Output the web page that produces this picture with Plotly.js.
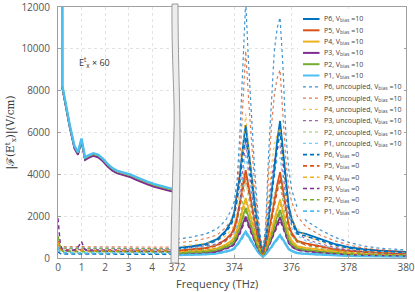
<!DOCTYPE html>
<html><head><meta charset="utf-8">
<script src="https://cdn.plot.ly/plotly-3.0.1.min.js"></script>
<style>html,body{margin:0;padding:0;background:#fff}</style>
</head><body><div id="chart" style="width:415px;height:292px"></div>
<script>
// ---------- DATA ----------
// left panel (low frequency, 0-5 THz)
const xLeftSolid = [0.16, 0.18, 0.3, 0.5, 0.7, 0.85, 1.0, 1.15, 1.3, 1.5, 1.7, 1.9, 2.1, 2.3, 2.5, 2.7, 2.9, 3.1, 3.3, 3.5, 3.8, 4.1, 4.4, 4.7, 5.0];
const leftSolidP6 = [60000, 8170, 7470, 6270, 5270, 4970, 5620, 4720, 4820, 4920, 4850, 4670, 4420, 4220, 4090, 4030, 3970, 3890, 3790, 3690, 3560, 3440, 3340, 3260, 3180];
const leftSolidP5 = [60000, 8185, 7485, 6285, 5285, 4985, 5635, 4735, 4835, 4935, 4865, 4685, 4435, 4235, 4105, 4045, 3985, 3905, 3805, 3705, 3575, 3455, 3355, 3275, 3195];
const leftSolidP4 = [60000, 8200, 7500, 6300, 5300, 5000, 5650, 4750, 4850, 4950, 4880, 4700, 4450, 4250, 4120, 4060, 4000, 3920, 3820, 3720, 3590, 3470, 3370, 3290, 3210];
const leftSolidP3 = [60000, 8130, 7430, 6230, 5230, 4930, 5580, 4680, 4780, 4880, 4810, 4630, 4380, 4180, 4050, 3990, 3930, 3850, 3750, 3650, 3520, 3400, 3300, 3220, 3140];
const leftSolidP2 = [60000, 8230, 7530, 6330, 5330, 5030, 5680, 4780, 4880, 4980, 4910, 4730, 4480, 4280, 4150, 4090, 4030, 3950, 3850, 3750, 3620, 3500, 3400, 3320, 3240];
const leftSolidP1 = [60000, 8260, 7560, 6360, 5360, 5060, 5710, 4810, 4910, 5010, 4940, 4760, 4510, 4310, 4180, 4120, 4060, 3980, 3880, 3780, 3650, 3530, 3430, 3350, 3270];

const xLeft = [0, 0.1, 0.2, 0.4, 0.6, 0.8, 0.9, 1.0, 1.1, 1.2, 1.5, 1.8, 2.1, 2.4, 2.7, 3.0, 3.3, 3.6, 3.9, 4.2, 4.5, 4.8, 5.0];
const leftUncP6 = [500, 470, 480, 470, 475, 465, 470, 480, 470, 465, 470, 465, 460, 465, 460, 455, 460, 455, 450, 455, 450, 450, 445];
const leftUncP5 = [620, 560, 550, 540, 545, 535, 540, 550, 540, 535, 540, 535, 530, 535, 530, 525, 530, 525, 520, 525, 520, 520, 515];
const leftUncP4 = [560, 450, 440, 435, 440, 430, 435, 445, 435, 430, 435, 430, 428, 432, 428, 425, 428, 424, 420, 424, 420, 420, 418];
const leftUncP3 = [700, 420, 410, 400, 405, 398, 402, 420, 402, 398, 400, 398, 395, 398, 395, 392, 395, 392, 390, 392, 390, 388, 386];
const leftUncP2 = [900, 480, 470, 460, 465, 458, 462, 470, 462, 458, 460, 458, 455, 458, 455, 452, 455, 452, 450, 452, 450, 448, 446];
const leftUncP1 = [520, 380, 370, 365, 368, 362, 366, 372, 365, 362, 364, 362, 360, 362, 360, 358, 360, 358, 356, 358, 356, 355, 354];
const leftV0P6 = [300, 210, 195, 190, 192, 188, 190, 200, 190, 188, 190, 188, 186, 188, 186, 184, 186, 184, 182, 184, 182, 181, 180];
const leftV0P5 = [800, 420, 380, 365, 370, 362, 368, 380, 366, 362, 365, 362, 360, 362, 360, 357, 360, 357, 355, 357, 355, 354, 352];
const leftV0P4 = [750, 400, 340, 330, 332, 326, 330, 340, 330, 326, 328, 326, 324, 326, 324, 322, 324, 322, 320, 322, 320, 319, 318];
const leftV0P3 = [1900, 620, 380, 330, 340, 420, 600, 790, 500, 360, 330, 320, 330, 320, 310, 320, 310, 300, 310, 300, 300, 290, 300];
const leftV0P2 = [1050, 460, 320, 300, 302, 298, 300, 310, 300, 296, 298, 296, 294, 296, 294, 292, 294, 292, 290, 292, 290, 289, 288];
const leftV0P1 = [450, 280, 250, 240, 242, 238, 240, 250, 240, 238, 240, 238, 236, 238, 236, 234, 236, 234, 232, 234, 232, 231, 230];

// right panel (372-380 THz)
const xRight = [372, 372.5, 373, 373.4, 373.7, 373.9, 374.0, 374.1, 374.2, 374.3, 374.4, 374.5, 374.6, 374.7, 374.8, 374.9, 375.0, 375.1, 375.2, 375.3, 375.4, 375.5, 375.6, 375.7, 375.8, 375.9, 376.0, 376.2, 376.5, 377, 377.5, 378, 378.5, 379, 379.5, 380];
const rightSolidP6 = [480, 560, 680, 900, 1300, 1750, 2200, 3000, 4000, 5300, 6350, 5200, 3900, 2800, 1700, 800, 150, 900, 1900, 3000, 4300, 5600, 6550, 5200, 3800, 2500, 1900, 1250, 1150, 900, 680, 520, 420, 360, 320, 290];
const rightSolidP5 = [350, 400, 480, 620, 880, 1170, 1450, 2000, 2650, 3500, 4200, 3450, 2600, 1850, 1150, 550, 130, 600, 1200, 1900, 2700, 3500, 4100, 3300, 2400, 1600, 1220, 820, 700, 560, 430, 340, 290, 250, 220, 200];
const rightSolidP4 = [270, 300, 360, 460, 640, 820, 1000, 1380, 1820, 2400, 2870, 2350, 1780, 1260, 790, 380, 110, 420, 830, 1300, 1850, 2400, 2800, 2250, 1640, 1100, 840, 570, 480, 390, 300, 240, 200, 175, 155, 140];
const rightSolidP3 = [190, 215, 255, 320, 450, 570, 700, 950, 1260, 1650, 1980, 1620, 1230, 870, 540, 270, 90, 290, 580, 910, 1290, 1670, 1950, 1570, 1140, 760, 580, 400, 340, 270, 210, 170, 145, 125, 110, 100];
const rightSolidP2 = [230, 260, 310, 390, 540, 690, 840, 1150, 1520, 2000, 2400, 1960, 1480, 1050, 660, 320, 100, 350, 690, 1080, 1530, 1980, 2300, 1850, 1350, 900, 690, 470, 400, 320, 250, 200, 170, 150, 130, 120];
const rightSolidP1 = [140, 155, 180, 220, 300, 380, 460, 620, 820, 1060, 1260, 1040, 790, 560, 350, 180, 70, 180, 340, 530, 740, 950, 1100, 890, 650, 440, 340, 240, 200, 160, 130, 110, 95, 85, 80, 75];
const rightUncP6 = [900, 1000, 1150, 1400, 1800, 2300, 2700, 3700, 6000, 9200, 12300, 9300, 6800, 4500, 2600, 1200, 350, 1600, 5000, 7800, 9900, 11000, 11500, 9200, 6000, 4300, 3300, 2400, 1800, 1350, 1000, 750, 580, 480, 420, 380];
const rightUncP5 = [720, 800, 930, 1100, 1450, 1850, 2200, 3000, 4800, 7400, 9900, 7600, 5500, 3700, 2200, 1000, 320, 1300, 4000, 6300, 7800, 8600, 9000, 7000, 4700, 3400, 2700, 2000, 1500, 1100, 830, 620, 480, 400, 340, 300];
const rightUncP4 = [550, 610, 700, 820, 1050, 1350, 1600, 2150, 3400, 5200, 6900, 5300, 3850, 2600, 1550, 700, 250, 900, 2800, 4400, 5400, 5950, 6200, 4850, 3250, 2350, 1850, 1400, 1050, 780, 580, 440, 340, 280, 240, 210];
const rightUncP3 = [460, 510, 580, 680, 870, 1100, 1300, 1750, 2750, 4200, 5600, 4350, 3150, 2150, 1300, 600, 220, 780, 2400, 3800, 4700, 5200, 5400, 4250, 2850, 2050, 1600, 1200, 900, 680, 510, 390, 300, 250, 215, 190];
const rightUncP2 = [330, 360, 410, 480, 610, 760, 900, 1200, 1850, 2800, 3700, 2900, 2100, 1400, 850, 400, 170, 520, 1580, 2500, 3050, 3380, 3500, 2750, 1850, 1350, 1050, 800, 600, 450, 340, 260, 200, 170, 150, 130];
const rightUncP1 = [420, 460, 530, 620, 790, 1000, 1180, 1580, 2480, 3750, 5000, 3900, 2800, 1900, 1150, 540, 200, 700, 2150, 3400, 4200, 4650, 4800, 3800, 2550, 1850, 1450, 1080, 820, 610, 460, 350, 270, 225, 195, 170];
const rightV0P6 = [430, 510, 620, 830, 1200, 1600, 2000, 2750, 3700, 4900, 5800, 4800, 3600, 2550, 1550, 720, 140, 820, 1750, 2800, 4000, 5200, 6000, 4800, 3500, 2300, 1750, 1150, 1050, 820, 620, 470, 380, 330, 290, 260];
const rightV0P5 = [330, 375, 450, 580, 820, 1090, 1350, 1860, 2470, 3250, 3900, 3200, 2420, 1720, 1070, 510, 120, 560, 1120, 1770, 2510, 3250, 3800, 3070, 2230, 1490, 1130, 760, 650, 520, 400, 320, 270, 230, 205, 185];
const rightV0P4 = [250, 280, 335, 430, 600, 765, 930, 1280, 1690, 2230, 2670, 2190, 1650, 1170, 735, 355, 100, 390, 770, 1210, 1720, 2230, 2600, 2090, 1525, 1020, 780, 530, 445, 360, 280, 225, 185, 165, 145, 130];
const rightV0P3 = [175, 200, 235, 295, 415, 525, 645, 875, 1160, 1520, 1820, 1490, 1130, 800, 500, 250, 85, 265, 535, 840, 1190, 1540, 1800, 1445, 1050, 700, 535, 370, 315, 250, 195, 155, 135, 115, 100, 92];
const rightV0P2 = [215, 240, 290, 360, 500, 640, 780, 1070, 1410, 1860, 2230, 1820, 1375, 975, 615, 300, 95, 325, 640, 1000, 1420, 1840, 2140, 1720, 1255, 835, 640, 435, 370, 300, 230, 185, 160, 140, 120, 110];
const rightV0P1 = [130, 145, 165, 205, 280, 350, 425, 575, 760, 985, 1170, 965, 735, 520, 325, 165, 65, 165, 315, 490, 690, 880, 1020, 825, 605, 410, 315, 225, 185, 150, 120, 100, 88, 80, 74, 70];

const yTicks = [0, 2000, 4000, 6000, 8000, 10000, 12000];
const yTickText = ['0', '2000', '4000', '6000', '8000', '10000', '12000'];
const leftTicks = [0, 1, 2, 3, 4];
const rightTicks = [372, 374, 376, 378, 380];

const probes = ['P6', 'P5', 'P4', 'P3', 'P2', 'P1'];
const colors = ['#0072BD', '#D95319', '#EDB120', '#7E2F8E', '#77AC30', '#4DBEEE'];
const leftSolid = [leftSolidP6, leftSolidP5, leftSolidP4, leftSolidP3, leftSolidP2, leftSolidP1];
const leftUnc = [leftUncP6, leftUncP5, leftUncP4, leftUncP3, leftUncP2, leftUncP1];
const leftV0 = [leftV0P6, leftV0P5, leftV0P4, leftV0P3, leftV0P2, leftV0P1];
const rightSolid = [rightSolidP6, rightSolidP5, rightSolidP4, rightSolidP3, rightSolidP2, rightSolidP1];
const rightUnc = [rightUncP6, rightUncP5, rightUncP4, rightUncP3, rightUncP2, rightUncP1];
const rightV0 = [rightV0P6, rightV0P5, rightV0P4, rightV0P3, rightV0P2, rightV0P1];

// ---------- TRACES ----------
const traces = [];
const solidW = [1.8, 1.8, 1.8, 1.8, 1.8, 2.4];
probes.forEach((p, i) => {
  traces.push({x: xLeftSolid, y: leftSolid[i], xaxis: 'x', yaxis: 'y', mode: 'lines', line: {color: colors[i], width: solidW[i]}});
  traces.push({x: xRight, y: rightSolid[i], xaxis: 'x2', yaxis: 'y2', mode: 'lines', line: {color: colors[i], width: solidW[i]}});
});
probes.forEach((p, i) => {
  traces.push({x: xLeft, y: leftUnc[i], xaxis: 'x', yaxis: 'y', mode: 'lines', opacity: 0.75, line: {color: colors[i], width: 1.2, dash: 'dot'}});
  traces.push({x: xRight, y: rightUnc[i], xaxis: 'x2', yaxis: 'y2', mode: 'lines', opacity: 0.75, line: {color: colors[i], width: 1.2, dash: 'dot'}});
});
probes.forEach((p, i) => {
  traces.push({x: xLeft, y: leftV0[i], xaxis: 'x', yaxis: 'y', mode: 'lines', line: {color: colors[i], width: 1.5, dash: '4px,3px'}});
  traces.push({x: xRight, y: rightV0[i], xaxis: 'x2', yaxis: 'y2', mode: 'lines', line: {color: colors[i], width: 1.5, dash: '4px,3px'}});
});

// ---------- LAYOUT ----------
const W = 415, H = 292, L = 58, R = 9, T = 7, B = 34;
const pw = W - L - R, ph = H - T - B;
const px = v => (v - L) / pw;
const py = v => (H - B - v) / ph;

const axisCommon = {
  showline: true, linecolor: '#a0a0a0', linewidth: 1,
  ticks: 'inside', ticklen: 3, tickcolor: '#a0a0a0',
  showgrid: true, gridcolor: '#e3e3e3', griddash: 'dot', zeroline: false,
  ticklabeloverflow: 'allow',
  tickfont: {family: 'Open Sans, sans-serif', size: 10, color: '#555'}
};

const shapes = [];
const annotations = [];
// axis break band
shapes.push({type: 'path', xref: 'paper', yref: 'paper', layer: 'above',
  path: `M ${px(172)},${py(4)} C ${px(171.5)},${py(60)} ${px(175)},${py(100)} ${px(174)},${py(130)} C ${px(173)},${py(170)} ${px(171)},${py(220)} ${px(171)},${py(263)} L ${px(178.5)},${py(263)} C ${px(179)},${py(220)} ${px(180.5)},${py(170)} ${px(180)},${py(130)} C ${px(179.5)},${py(90)} ${px(178)},${py(50)} ${px(178)},${py(4)} Z`,
  fillcolor: '#ededed', line: {color: '#9a9a9a', width: 1}});
// legend background
shapes.push({type: 'rect', xref: 'paper', yref: 'paper', layer: 'above',
  x0: px(298), x1: px(404), y0: py(218), y1: py(9), fillcolor: '#ffffff', line: {width: 0}});

const legendGroups = [
  {label: p => `${p}, V<sub>bias</sub> =10`, dash: 'solid', width: 2},
  {label: p => `${p}, uncoupled, V<sub>bias</sub> =10`, dash: 'dot', width: 1.2, opacity: 0.75},
  {label: p => `${p}, V<sub>bias</sub> =0`, dash: '4px,3px', width: 1.6}
];
let row = 0;
legendGroups.forEach(g => {
  probes.forEach((p, i) => {
    const yy = 19 + 11.3 * row;
    shapes.push({type: 'line', xref: 'paper', yref: 'paper', layer: 'above',
      x0: px(303), x1: px(319.5), y0: py(yy), y1: py(yy), opacity: g.opacity || 1,
      line: {color: colors[i], width: g.width, dash: g.dash}});
    annotations.push({xref: 'paper', yref: 'paper', x: px(321.5), y: py(yy), xanchor: 'left', yanchor: 'middle',
      text: g.label(p), showarrow: false, font: {family: 'Open Sans, sans-serif', size: 7, color: '#444'}});
    row++;
  });
});

annotations.push({xref: 'x', yref: 'y', x: 1.55, y: 9350, text: 'E<sup>t</sup><sub>x</sub> × 60', showarrow: false,
  font: {family: 'Open Sans, sans-serif', size: 9, color: '#333'}});
annotations.push({xref: 'paper', yref: 'paper', x: px(217), y: py(283), text: 'Frequency (THz)', showarrow: false,
  xanchor: 'center', yanchor: 'middle', font: {family: 'Open Sans, sans-serif', size: 11, color: '#444'}});

const layout = {
  width: W, height: H, margin: {l: L, r: R, t: T, b: B},
  paper_bgcolor: '#fff', plot_bgcolor: '#fff', showlegend: false, hovermode: false,
  xaxis: Object.assign({}, axisCommon, {domain: [0, px(175.5)], range: [0, 5], tickvals: leftTicks, anchor: 'y', mirror: true}),
  xaxis2: Object.assign({}, axisCommon, {domain: [px(177), 1], range: [372, 380], tickvals: rightTicks, anchor: 'y2', mirror: true}),
  yaxis: Object.assign({}, axisCommon, {domain: [0, 1], range: [0, 12000.01], tickmode: 'array', tickvals: yTicks, ticktext: yTickText, anchor: 'x',
    ticklabelstandoff: 5,
    title: {text: '|ℱ(E<sup>t</sup><sub>x</sub>)|(V/cm)', font: {family: 'DejaVu Serif, Liberation Serif, serif', size: 10.5, color: '#333'}, standoff: 4}}),
  yaxis2: Object.assign({}, axisCommon, {domain: [0, 1], matches: 'y', range: [0, 12000.01], tickmode: 'array', tickvals: yTicks, ticktext: yTickText, anchor: 'x2', side: 'right', showticklabels: false}),
  shapes: shapes,
  annotations: annotations
};

Plotly.newPlot('chart', traces, layout, {displayModeBar: false, staticPlot: true});
</script>
</body></html>
